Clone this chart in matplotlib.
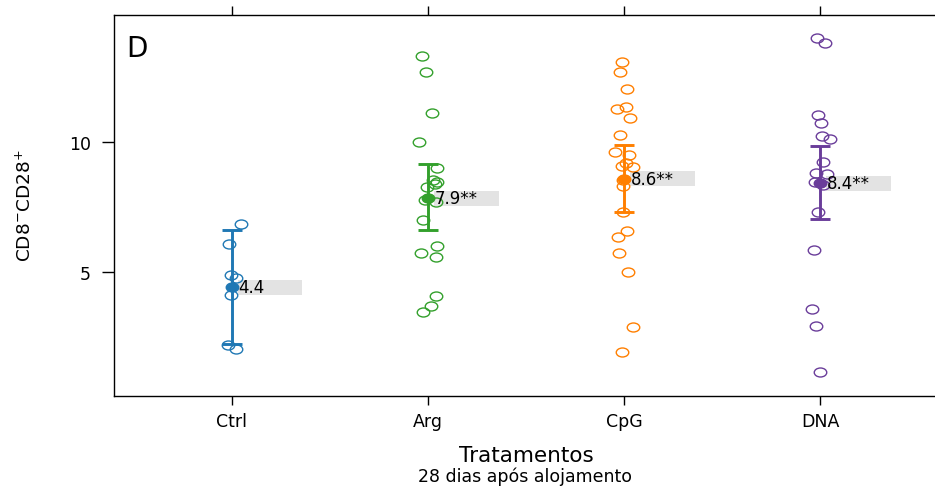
import numpy as np
import matplotlib
matplotlib.use("Agg")
import matplotlib.pyplot as plt
from matplotlib.path import Path
from matplotlib.patches import Rectangle

plt.rcParams['font.family'] = ['DejaVu Sans']

categories = ["Ctrl", "Arg", "CpG", "DNA"]
colors = ["#1f78b4", "#33a02c", "#ff7f00", "#6a3d9a"]

ctrl_vals = [6.84, 6.07, 4.87, 4.76, 4.10, 2.17, 2.01]
ctrl_jit = [9.7, -2.7, -0.3, 4.0, -0.3, -4.0, 4.7]

arg_vals = [13.35, 12.73, 11.12, 10.02, 9.00, 8.52, 8.45, 8.39, 8.26, 7.78, 7.68,
            7.01, 6.00, 5.72, 5.56, 4.07, 3.65, 3.43]
arg_jit = [-6.3, -2.0, 4.3, -8.7, 9.3, 5.0, 8.7, 7.0, -1.3, -3.0, 8.0,
           -5.3, 8.7, -7.3, 8.0, 8.0, 2.7, -5.3]

cpg_vals = [13.09, 12.70, 12.06, 11.29, 11.35, 10.93, 10.29, 9.61, 9.51, 9.20, 9.07,
            9.03, 8.52, 8.32, 7.30, 6.56, 6.35, 5.72, 5.00, 2.87, 1.89]
cpg_jit = [-2.3, -4.0, 3.3, -6.7, 2.0, 6.0, -4.0, -9.0, 5.3, 2.0, -2.3,
           9.3, -0.7, -0.7, -0.7, 3.3, -5.7, -4.7, 4.3, 9.3, -2.3]

dna_vals = [14.03, 13.83, 11.05, 10.75, 10.23, 10.13, 9.23, 8.81, 8.78, 8.45, 8.35,
            7.30, 5.85, 3.56, 2.89, 1.11]
dna_jit = [-3.3, 4.3, -2.7, 0.7, 1.7, 9.3, 2.7, -4.0, 6.7, -5.0, 3.0,
           -2.7, -6.7, -8.3, -4.0, -0.7]

means = [4.40, 7.83, 8.58, 8.42]
err_low = [2.21, 6.61, 7.32, 7.04]
err_high = [6.61, 9.16, 9.89, 9.84]
mean_labels = ["4.4", "7.9**", "8.6**", "8.4**"]

yticks = [5, 10]

all_vals = [ctrl_vals, arg_vals, cpg_vals, dna_vals]
all_jit = [ctrl_jit, arg_jit, cpg_jit, dna_jit]

fig = plt.figure(figsize=(9.35, 4.89), dpi=100)
ax = fig.add_axes([114/935, 92.3/489, 824/935, 381/489])

# ellipse marker (image appears horizontally stretched)
uc = Path.unit_circle()
ell = Path(uc.vertices * np.array([1.0, 0.72]), uc.codes)

px_per_unit = 196.0
for i, (vals, jit) in enumerate(zip(all_vals, all_jit)):
    xpos = i + 1
    xs = xpos + np.array(jit) / px_per_unit
    ax.plot(xs, vals, linestyle='none', marker=ell, markersize=9.0,
            markerfacecolor='none', markeredgecolor=colors[i],
            markeredgewidth=1.0, zorder=3)
    ax.errorbar([xpos], [means[i]],
                yerr=[[means[i] - err_low[i]], [err_high[i] - means[i]]],
                fmt='none', ecolor=colors[i], elinewidth=2.1, capsize=7.2,
                capthick=2.1, zorder=4)
    ax.plot([xpos], [means[i]], linestyle='none', marker=ell, markersize=9.0,
            markerfacecolor=colors[i], markeredgecolor=colors[i], zorder=5)
    ax.add_patch(Rectangle((xpos + 0.03, means[i] - 0.29), 0.33, 0.58,
                           facecolor='#e3e3e3', edgecolor='none', zorder=2))
    ax.text(xpos + 0.033, means[i], mean_labels[i], ha='left', va='center',
            fontsize=12, color='black', zorder=6)

ax.set_xlim(0.4, 4.6)
ax.set_ylim(0.2, 14.93)
ax.set_xticks(range(1, 5))
ax.set_xticklabels(categories)
ax.set_yticks(yticks)
ax.set_yticklabels([str(t) for t in yticks])
ax.spines['right'].set_visible(False)
for s in ['left', 'top', 'bottom']:
    ax.spines[s].set_linewidth(1.0)
ax.tick_params(axis='x', which='both', direction='out', length=6.5, width=1.0,
               top=True, labeltop=False, labelsize=12.5, pad=5)
ax.tick_params(axis='y', direction='out', length=8.5, width=1.0,
               labelsize=12.5, pad=8)

ax.text((126 - 114) / 824, (396.7 - 57.3) / 381, "D", transform=ax.transAxes,
        ha='left', va='baseline', fontsize=20)

fig.text(25 / 935, (489 - 206) / 489, r'CD8$^{-}$CD28$^{+}$', rotation=90,
         ha='center', va='center', fontsize=13.3)
fig.text(526 / 935, (489 - 461.7) / 489, "Tratamentos", ha='center',
         va='baseline', fontsize=15.5)
fig.text(525 / 935, (489 - 481.7) / 489, "28 dias após alojamento",
         ha='center', va='baseline', fontsize=12.5)

fig.savefig("out.png", dpi=100)
